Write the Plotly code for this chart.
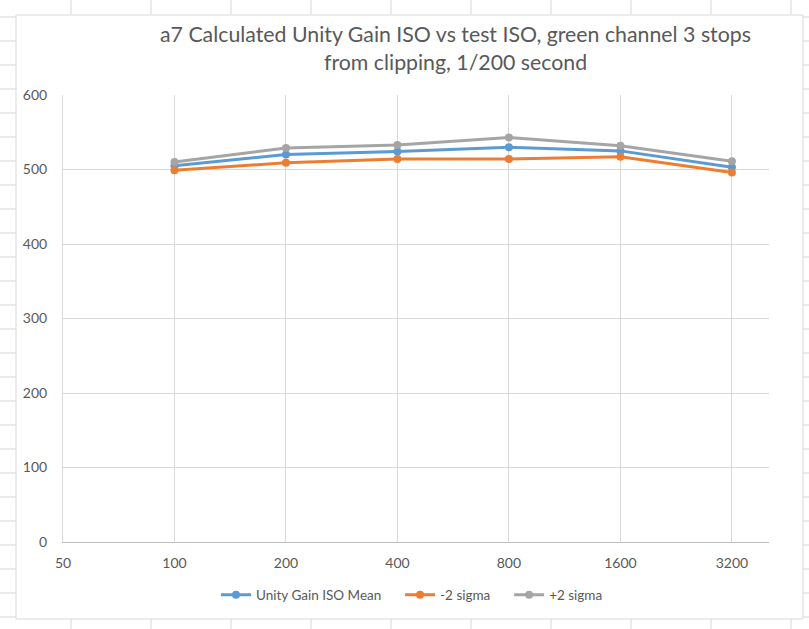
import math
import plotly.graph_objects as go

iso = [100, 200, 400, 800, 1600, 3200]
mean_vals = [505, 520, 524, 530, 525, 503]
minus2 = [499, 509, 514, 514, 517, 496]
plus2 = [510, 529, 533, 543, 532, 511]
x_ticks = [50, 100, 200, 400, 800, 1600, 3200]
y_ticks = [0, 100, 200, 300, 400, 500, 600]

W, H = 809, 629
L, R, T, B = 63, 769, 95, 542
FONT = "Lato, 'Open Sans', sans-serif"
TXT = "#595959"
PAD = "\u00a0" * 4


def px(x):
    return (x - L) / (R - L)


def py(y):
    return (B - y) / (B - T)


fig = go.Figure()
series = [
    ("Unity Gain ISO Mean" + PAD, mean_vals, "#5B9BD5"),
    ("-2 sigma" + PAD, minus2, "#ED7D31"),
    ("+2 sigma", plus2, "#A5A5A5"),
]
for name, vals, col in series:
    fig.add_trace(go.Scatter(
        x=iso, y=vals, name=name, mode="lines+markers",
        line=dict(color=col, width=3),
        marker=dict(color=col, size=8, symbol="circle"),
    ))

shapes = []
grid_col = "#d6d6d6"
# spreadsheet gridlines outside the chart area
for k in range(0, 26):
    yy = 17 + 24 * k
    if yy > H:
        break
    shapes.append(dict(type="line", xref="paper", yref="paper",
                       x0=px(0), x1=px(16), y0=py(yy), y1=py(yy),
                       line=dict(color=grid_col, width=1), layer="below"))
    shapes.append(dict(type="line", xref="paper", yref="paper",
                       x0=px(803), x1=px(W), y0=py(yy), y1=py(yy),
                       line=dict(color=grid_col, width=1), layer="below"))
for k in range(0, 10):
    xx = 71 + 80 * k
    shapes.append(dict(type="line", xref="paper", yref="paper",
                       x0=px(xx), x1=px(xx), y0=py(0), y1=py(15),
                       line=dict(color=grid_col, width=1), layer="below"))
    shapes.append(dict(type="line", xref="paper", yref="paper",
                       x0=px(xx), x1=px(xx), y0=py(619), y1=py(H),
                       line=dict(color=grid_col, width=1), layer="below"))
# chart area
shapes.append(dict(type="rect", xref="paper", yref="paper",
                   x0=px(16), x1=px(803), y0=py(619), y1=py(15),
                   line=dict(color="#d9d9d9", width=1), fillcolor="white",
                   layer="below"))

annotations = [
    dict(text="a7 Calculated Unity Gain ISO vs test ISO, green channel 3 stops",
         xref="paper", yref="paper", x=px(455), y=py(34), showarrow=False,
         font=dict(family=FONT, size=21.3, color=TXT), xanchor="center", yanchor="middle"),
    dict(text="from clipping, 1/200 second",
         xref="paper", yref="paper", x=px(455), y=py(62), showarrow=False,
         font=dict(family=FONT, size=21.3, color=TXT), xanchor="center", yanchor="middle"),
]

fig.update_layout(
    width=W, height=H,
    margin=dict(l=L, r=W - R, t=T, b=H - B),
    paper_bgcolor="white",
    plot_bgcolor="rgba(0,0,0,0)",
    shapes=shapes,
    annotations=annotations,
    showlegend=True,
    legend=dict(orientation="h", x=px(412), xanchor="center", y=py(595), yanchor="middle",
                font=dict(family=FONT, size=13.5, color=TXT), bgcolor="rgba(0,0,0,0)",
                itemwidth=30, traceorder="normal"),
    xaxis=dict(type="log", range=[math.log10(50), math.log10(4030)],
               tickvals=x_ticks, ticktext=[str(v) for v in x_ticks],
               showgrid=True, gridcolor="#d9d9d9", gridwidth=1,
               showline=True, linecolor="#bfbfbf", linewidth=1,
               zeroline=False, ticks="", ticklabelstandoff=8,
               tickfont=dict(family=FONT, size=14, color=TXT)),
    yaxis=dict(range=[0, 600], tickvals=y_ticks,
               showgrid=True, gridcolor="#d9d9d9", gridwidth=1,
               showline=True, linecolor="#d9d9d9", linewidth=1,
               zeroline=False, ticks="", ticklabelstandoff=12,
               tickfont=dict(family=FONT, size=14, color=TXT)),
)

fig.write_html("out.html", config={"displayModeBar": False},
               post_script="document.body.style.margin='0';")
